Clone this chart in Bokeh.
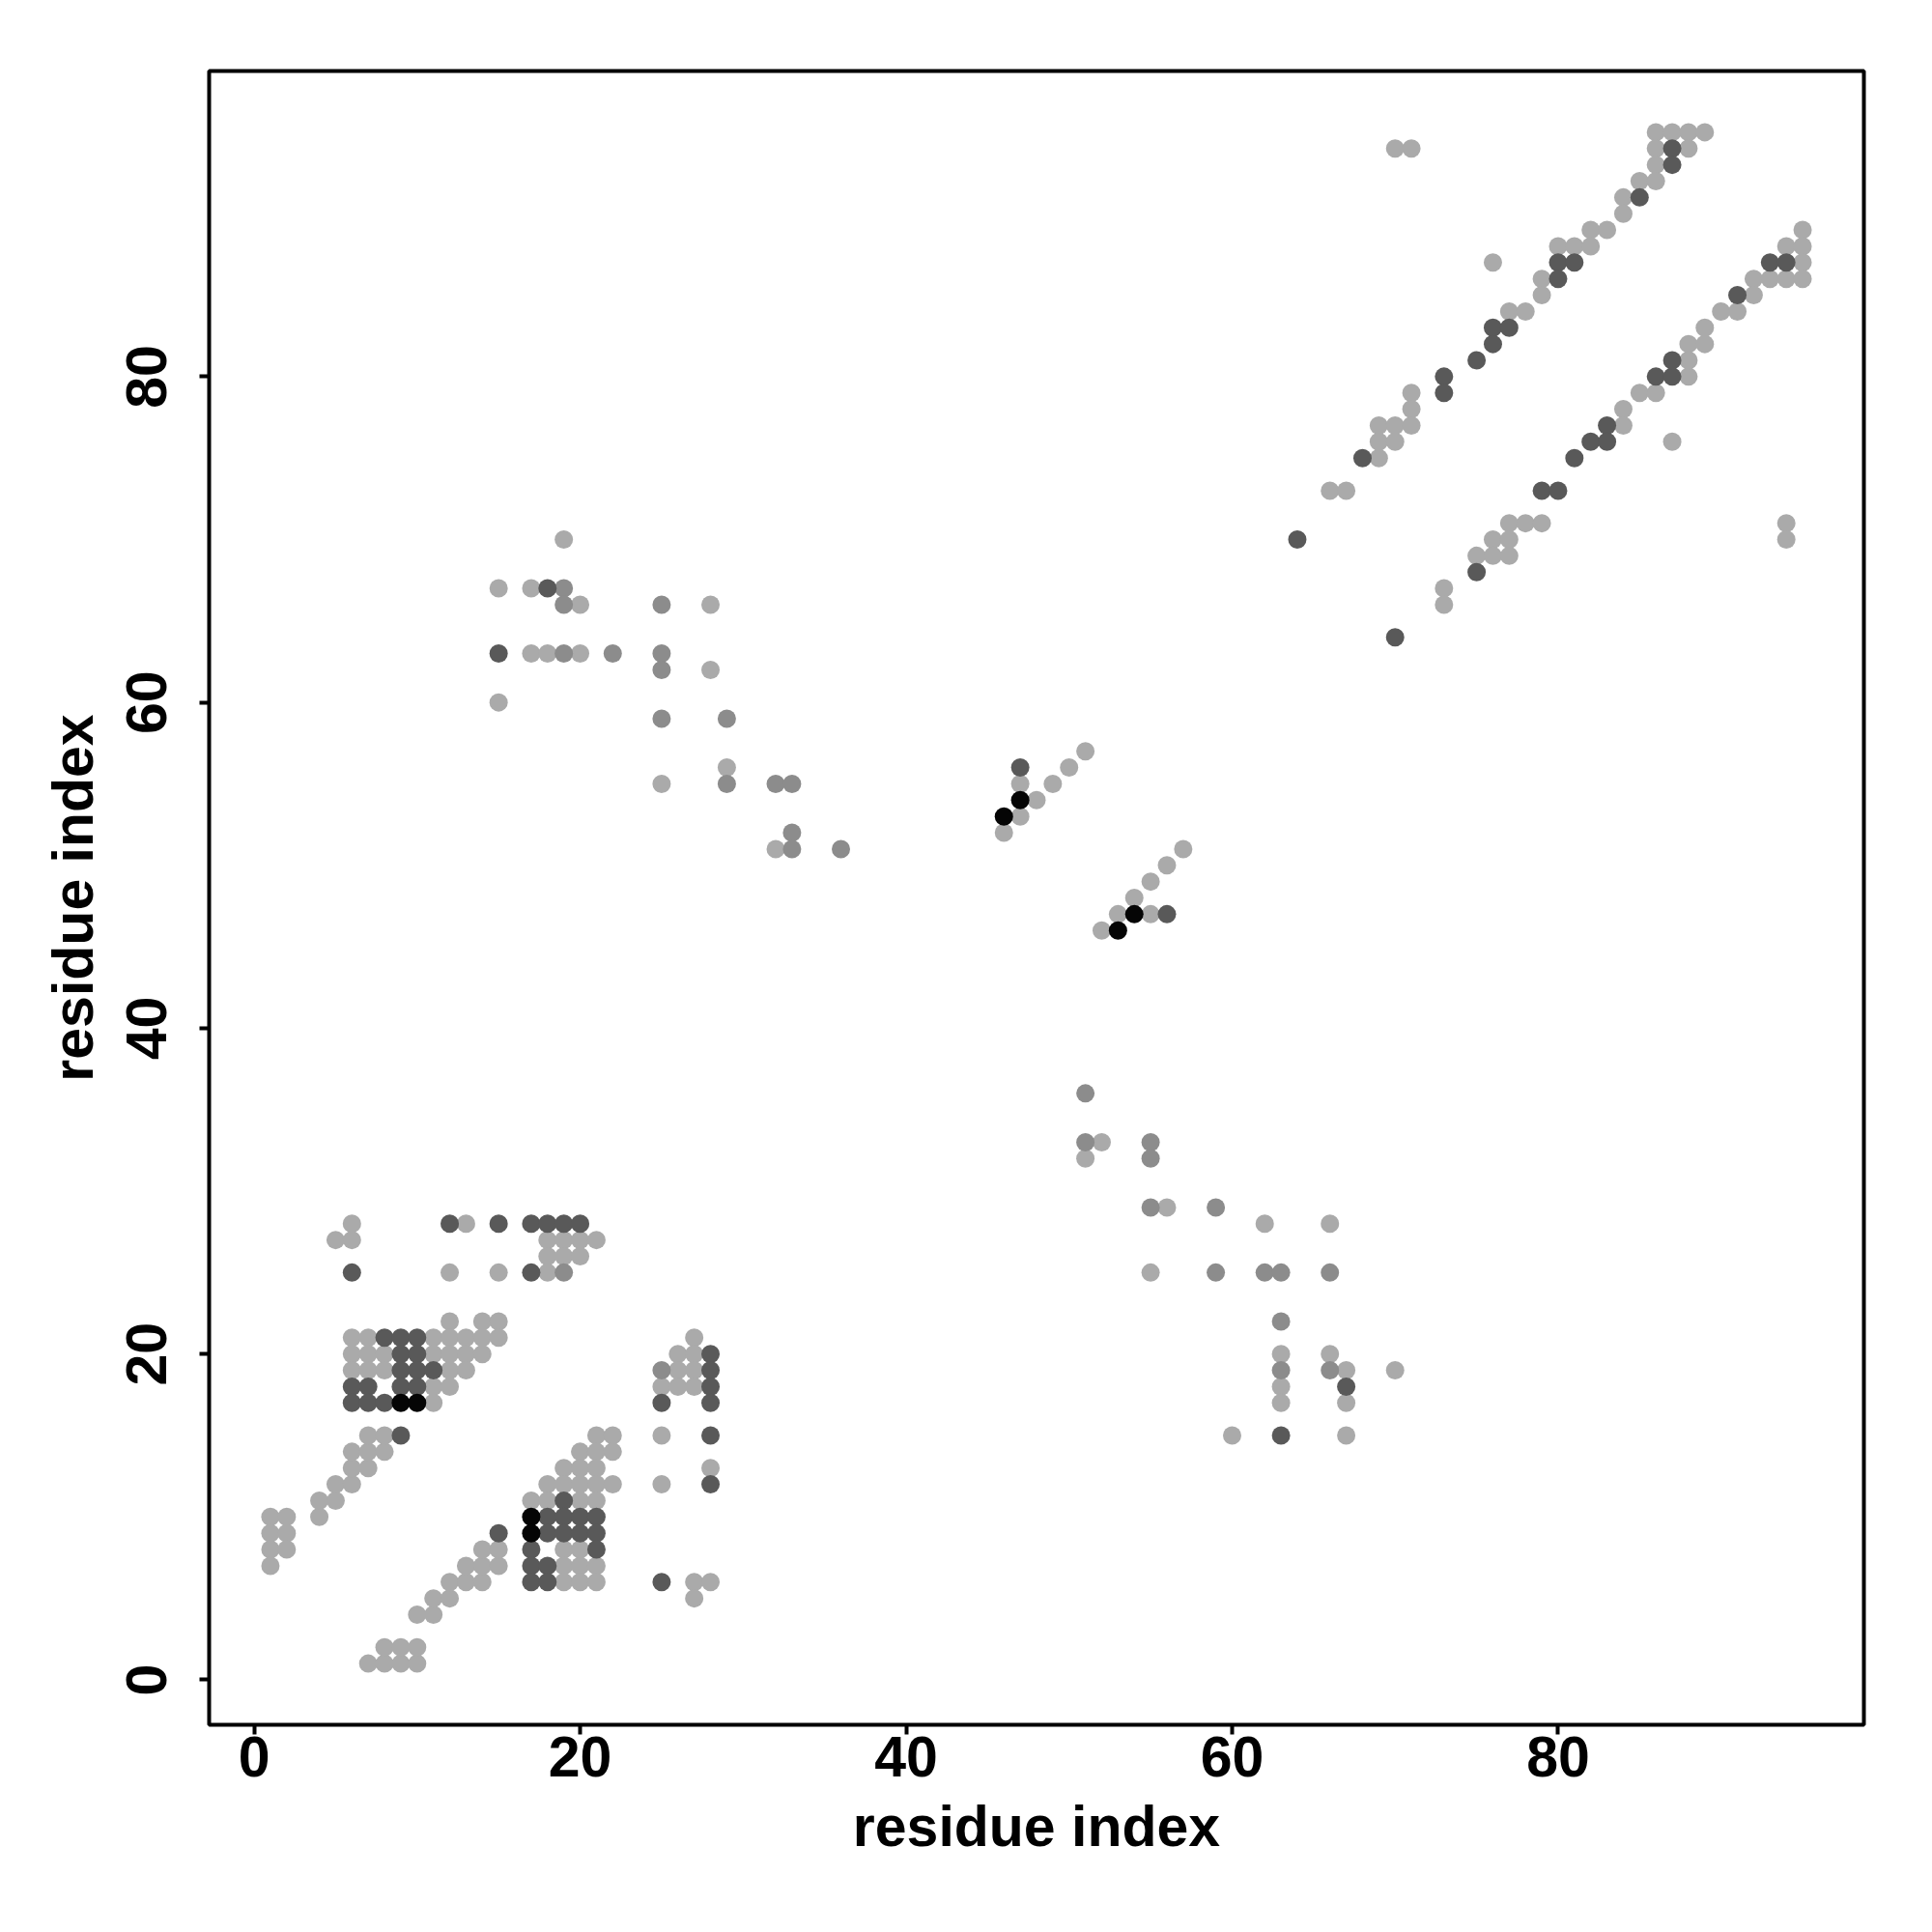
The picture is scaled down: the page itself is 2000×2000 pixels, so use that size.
from bokeh.plotting import figure
from bokeh.models import Range1d, FixedTicker, ColumnDataSource
from bokeh.embed import file_html
from bokeh.resources import INLINE

# contact pairs (residue i, residue j) grouped by shade level
light_pairs = [
    (7,1),(8,1),(9,1),(10,1),(8,2),(9,2),(10,2),(1,10),(2,10),(1,9),(2,9),(1,8),(2,8),(1,7),
    (4,10),(4,11),(5,11),(5,12),(6,12),(6,13),(7,13),(6,14),(7,14),(8,14),(7,15),(8,15),
    (10,4),(11,4),(11,5),(12,5),(12,6),(13,6),(14,6),(13,7),(14,7),(15,7),(14,8),(15,8),
    (21,15),(22,15),(25,15),(20,14),(21,14),(22,14),(19,13),(20,13),(21,13),(28,13),
    (18,12),(19,12),(20,12),(21,12),(22,12),(25,12),(17,11),(18,11),(20,11),(21,11),
    (19,8),(20,8),(19,7),(20,7),(21,7),(19,6),(20,6),(21,6),(27,6),(28,6),(27,5),
    (6,28),(5,27),(6,27),(13,28),(12,25),(15,25),(12,22),(14,22),(15,22),
    (6,21),(7,21),(11,21),(12,21),(13,21),(14,21),(15,21),
    (6,20),(7,20),(8,20),(11,20),(12,20),(13,20),(14,20),
    (6,19),(7,19),(8,19),(12,19),(13,19),(11,18),(12,18),(11,17),
    (18,27),(19,27),(20,27),(21,27),(18,26),(19,26),(20,26),(18,25),
    (27,21),(26,20),(27,20),(26,19),(27,19),(25,18),(26,18),(27,18),
    (19,70),(15,67),(17,67),(20,66),(28,66),(17,63),(18,63),(20,63),(28,62),(15,60),
    (29,56),(25,55),(32,51),
    (51,57),(50,56),(47,55),(49,55),(48,54),(47,53),(46,52),
    (57,51),(56,50),(55,49),(54,48),(53,47),(55,47),(52,46),
    (52,33),(51,32),(56,29),(62,28),(66,28),(55,25),(63,20),(66,20),(67,19),(70,19),
    (63,18),(63,17),(67,17),(60,15),(67,15),
    (71,79),(71,78),(69,77),(70,77),(71,77),(69,76),(70,76),(69,75),(66,73),(67,73),
    (77,71),(78,71),(79,71),(76,70),(77,70),(75,69),(76,69),(77,69),(73,67),(73,66),
    (85,79),(86,79),(88,80),(84,78),(84,77),(87,76),(94,71),(94,70),(70,94),(71,94),
    (76,87),(80,88),(81,88),(79,86),(79,85),(77,84),(78,84),
    (86,95),(87,95),(88,95),(89,95),(86,94),(88,94),(86,93),(85,92),(86,92),
    (84,91),(84,90),(82,89),(83,89),(82,88),
    (95,89),(94,88),(95,88),(95,87),(92,86),(93,86),(94,86),(95,86),(92,85),
    (90,84),(91,84),(89,83),(88,82),(89,82),(88,81),
]
mid_pairs = [
    (19,25),(25,19),
    (19,67),(19,66),(25,66),(19,63),(22,63),(25,63),(25,62),(25,59),(29,59),
    (29,55),(32,55),(33,55),(33,52),(33,51),(36,51),
    (51,36),(51,33),(55,33),(55,32),(55,29),(59,29),(59,25),(62,25),(63,25),(66,25),
    (63,22),(63,19),(66,19),
]
dark_pairs = [
    (9,15),(15,9),
    (28,15),(28,12),(19,11),(18,10),(19,10),(20,10),(21,10),(18,9),(19,9),(20,9),(21,9),
    (17,8),(21,8),(17,7),(18,7),(17,6),(18,6),(25,6),
    (6,25),(12,28),(15,28),(8,21),(9,21),(10,21),(9,20),(10,20),(9,19),(10,19),(11,19),
    (6,18),(7,18),(9,18),(10,18),(6,17),(7,17),(8,17),
    (17,28),(18,28),(19,28),(20,28),(17,25),(28,20),(28,19),(28,18),(25,17),(28,17),
    (18,67),(15,63),
    (47,56),(56,47),
    (67,18),(63,15),
    (73,80),(73,79),(68,75),(81,75),(79,73),(80,73),(64,70),(75,68),(70,64),
    (86,80),(87,80),(83,77),(82,76),(83,76),(80,87),(81,87),(80,86),
    (76,83),(77,83),(76,82),(75,81),(87,94),(87,93),(85,91),(93,87),(94,87),(91,85),(87,81),
]
black_pairs = [
    (17,10),(17,9),(9,17),(10,17),
    (47,54),(46,53),(54,47),(53,46),
]

shade_colors = {"light": "#aaaaaa", "mid": "#8c8c8c", "dark": "#595959", "black": "#050505"}
groups = [("light", light_pairs), ("mid", mid_pairs), ("dark", dark_pairs), ("black", black_pairs)]

x_ticks = [0, 20, 40, 60, 80]
y_ticks = [0, 20, 40, 60, 80]

FONT = "Liberation Sans"

p = figure(width=1984, height=1984,
           x_range=Range1d(-2.76, 98.76), y_range=Range1d(-2.76, 98.76),
           output_backend="svg", toolbar_location=None,
           min_border_left=216, min_border_right=55,
           min_border_top=73, min_border_bottom=199)

for name, pairs in groups:
    src = ColumnDataSource(dict(i=[a for a, b in pairs], j=[b for a, b in pairs]))
    p.scatter("i", "j", source=src, size=19, marker="circle",
              fill_color=shade_colors[name], line_color=None)

p.xgrid.visible = False
p.ygrid.visible = False
p.outline_line_color = "black"
p.outline_line_width = 4
p.outline_line_alpha = 1.0

p.xaxis.ticker = FixedTicker(ticks=x_ticks)
p.yaxis.ticker = FixedTicker(ticks=y_ticks)
for ax in (p.xaxis, p.yaxis):
    ax.axis_label = "residue index"
    ax.axis_line_color = None
    ax.minor_tick_line_color = None
    ax.major_tick_line_color = "black"
    ax.major_tick_line_width = 4
    ax.major_tick_out = 10
    ax.major_tick_in = 0
    ax.major_label_text_font = FONT
    ax.major_label_text_font_style = "bold"
    ax.major_label_text_font_size = "59px"
    ax.major_label_text_color = "black"
    ax.axis_label_text_font = FONT
    ax.axis_label_text_font_style = "bold"
    ax.axis_label_text_font_size = "59px"
    ax.axis_label_text_color = "black"

p.xaxis.major_label_standoff = 2
p.xaxis.axis_label_standoff = 16
p.yaxis.major_label_orientation = "vertical"
p.yaxis.major_label_standoff = 34
p.yaxis.axis_label_standoff = 20

open("out.html", "w").write(file_html(p, INLINE))
